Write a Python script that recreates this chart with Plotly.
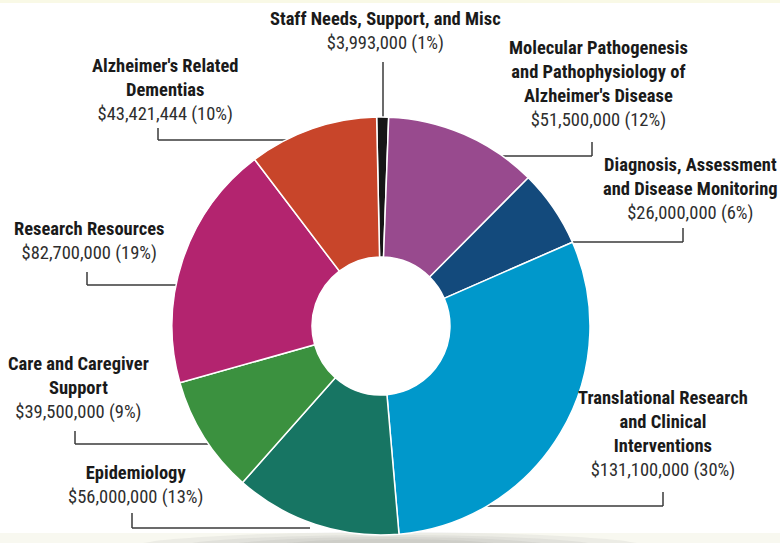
import plotly.graph_objects as go

categories = [
    "Staff Needs, Support, and Misc",
    "Molecular Pathogenesis and Pathophysiology of Alzheimer's Disease",
    "Diagnosis, Assessment and Disease Monitoring",
    "Translational Research and Clinical Interventions",
    "Epidemiology",
    "Care and Caregiver Support",
    "Research Resources",
    "Alzheimer's Related Dementias",
]
values = [3993000, 51500000, 26000000, 131100000, 56000000, 39500000, 82700000, 43421444]
percents = [1, 12, 6, 30, 13, 9, 19, 10]
label_lines = [
    ["Staff Needs, Support, and Misc"],
    ["Molecular Pathogenesis", "and Pathophysiology of", "Alzheimer's Disease"],
    ["Diagnosis, Assessment", "and Disease Monitoring"],
    ["Translational Research", "and Clinical", "Interventions"],
    ["Epidemiology"],
    ["Care and Caregiver", "Support"],
    ["Research Resources"],
    ["Alzheimer's Related", "Dementias"],
]
colors = ["#161616", "#984A8E", "#134A7C", "#0098CB", "#177563", "#3B913F", "#B3246F", "#C8452A"]

W, H = 780, 543
FONT = "Roboto Condensed, Open Sans Condensed, Liberation Sans, sans-serif"

def px(x, y):
    return x / W, 1 - y / H

# pie geometry (pixels)
cx, cy, r = 381, 326, 209

fig = go.Figure(go.Pie(
    labels=categories,
    values=values,
    sort=False,
    direction="clockwise",
    rotation=-1.2,
    hole=0.33,
    marker=dict(colors=colors, line=dict(color="white", width=1.5)),
    textinfo="none",
    hoverinfo="label+value+percent",
    showlegend=False,
    domain=dict(x=[(cx - r) / W, (cx + r) / W], y=[1 - (cy + r) / H, 1 - (cy - r) / H]),
))

# label block centers (pixels)
label_pos = [(385, 30.5), (598, 83.5), (690, 188.5), (663, 433.5), (135, 485), (78, 388), (89, 240.5), (165, 90)]

annotations = []
for lines, v, p, (x, y) in zip(label_lines, values, percents, label_pos):
    txt = "<br>".join(f"<b>{l}</b>" for l in lines) + f"<br><span style='color:#2e2e2e'>${v:,} ({p}%)</span>"
    ax, ay = px(x, y)
    annotations.append(dict(x=ax, y=ay, xref="paper", yref="paper", text=txt, showarrow=False,
                            xanchor="center", yanchor="middle", align="center",
                            font=dict(family=FONT, size=18.5, color="#1a1a1a")))

# leader lines (pixel polylines)
leaders = [
    [(383, 62), (383, 130)],
    [(592, 142), (592, 156), (480, 156)],
    [(683, 228), (683, 242), (545, 242)],
    [(663, 492), (663, 506), (480, 506)],
    [(132, 513), (132, 528), (310, 528)],
    [(75, 431), (75, 444), (220, 444)],
    [(87, 272), (87, 285), (195, 285)],
    [(158, 128), (158, 140), (300, 140)],
]
shapes = [
    dict(type="rect", xref="paper", yref="paper", x0=0, x1=1, y0=1 - 3 / H, y1=1,
         fillcolor="#f9f9e6", line=dict(width=0), layer="below"),
    dict(type="rect", xref="paper", yref="paper", x0=0, x1=1, y0=0, y1=10 / H,
         fillcolor="#f8f8f0", line=dict(width=0), layer="below"),
]
# soft shadow under the pie at the bottom edge (stacked translucent ellipses)
for rx, ry in [(260, 16), (215, 13), (170, 11), (125, 9)]:
    shapes.append(dict(type="circle", xref="paper", yref="paper",
                       x0=(390 - rx) / W, x1=(390 + rx) / W, y0=(-5 - ry) / H, y1=(-5 + ry) / H,
                       fillcolor="rgba(100,100,100,0.08)", line=dict(width=0), layer="below"))
for pts in leaders:
    for (x0, y0), (x1, y1) in zip(pts[:-1], pts[1:]):
        a0, b0 = px(x0, y0)
        a1, b1 = px(x1, y1)
        shapes.append(dict(type="line", xref="paper", yref="paper", x0=a0, y0=b0, x1=a1, y1=b1,
                           line=dict(color="#3a3a3a", width=1.5), layer="below"))

fig.update_layout(
    width=W, height=H,
    margin=dict(l=0, r=0, t=0, b=0),
    paper_bgcolor="white", plot_bgcolor="white",
    annotations=annotations,
    shapes=shapes,
)

fig.write_html("out.html", config={"displayModeBar": False},
               post_script="document.body.style.margin='0';")
